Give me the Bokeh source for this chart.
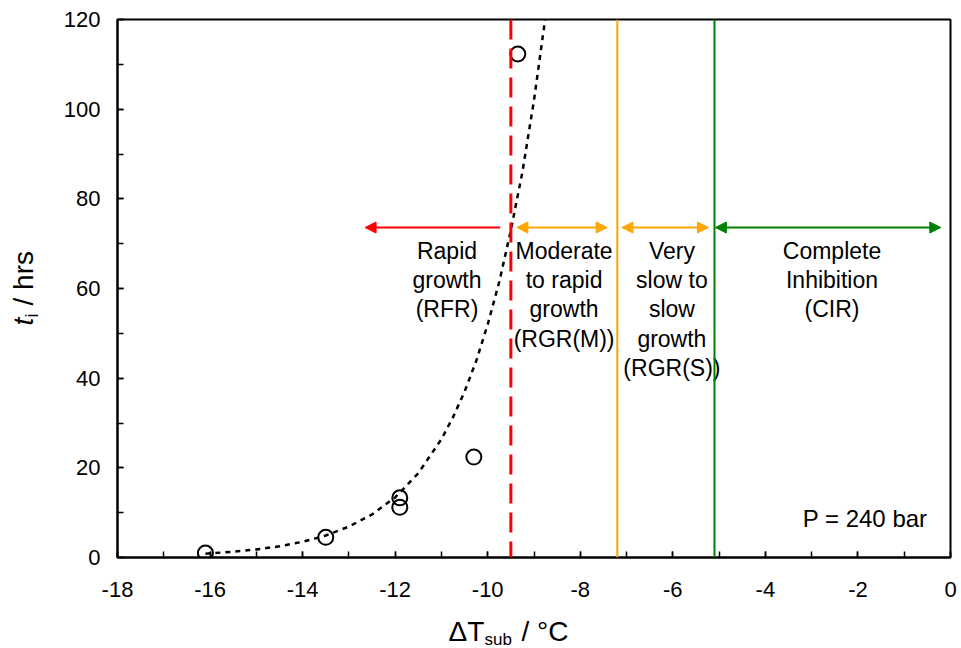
from math import pi
from bokeh.plotting import figure
from bokeh.layouts import row, column
from bokeh.models import (Range1d, FixedTicker, Span, Arrow, NormalHead,
                          ColumnDataSource)
from bokeh.core.properties import value
from bokeh.embed import file_html
from bokeh.resources import INLINE

# ---------------- data ----------------
dT_obs = [-16.1, -13.5, -11.9, -11.9, -10.3, -9.35]
ti_obs = [1.0, 4.5, 13.3, 11.2, 22.4, 112.3]

trend_dT = [-16.1, -15.5, -15.0, -14.5, -14.0, -13.5, -13.0, -12.5, -12.0, -11.5,
            -11.0, -10.75, -10.5, -10.25, -10.0, -9.75, -9.5, -9.25, -9.0, -8.74]
trend_ti = [0.84, 1.3, 1.8, 2.5, 3.5, 4.9, 6.9, 9.6, 13.4, 18.8,
            26.4, 31.3, 37.0, 43.8, 52.0, 61.5, 73.0, 86.0, 102.0, 121.5]

boundary_dT = [-9.5, -7.2, -5.1]
boundary_colors = ["#FF0000", "#FFA500", "#008000"]
boundary_dash = ["20 9", "solid", "solid"]
boundary_width = [3, 2, 2]

arrow_start = [-9.73, -9.37, -7.10, -5.08]
arrow_end = [-12.65, -7.42, -5.23, -0.21]
arrow_level = 73.6
arrow_colors = ["#FF0000", "#FFA500", "#FFA500", "#008000"]
arrow_both = [False, True, True, True]

region_dT = [-10.88, -8.35, -6.02, -2.56]
region_labels = ["Rapid\ngrowth\n(RFR)",
                 "Moderate\nto rapid\ngrowth\n(RGR(M))",
                 "Very\nslow to\nslow\ngrowth\n(RGR(S))",
                 "Complete\nInhibition\n(CIR)"]

pressure_label = "P = 240 bar"

x_title_parts = ["\u0394T", "sub", "/ \u00b0C"]
y_title_parts = ["t", "i", "/ hrs"]

x_ticks = list(range(-18, 1, 2))
x_tick_labels = [str(t) for t in x_ticks]
x_minor = list(range(-18, 1, 1))
y_ticks = list(range(0, 121, 20))
y_tick_labels = [str(t) for t in y_ticks]
y_minor = list(range(0, 121, 10))

# ---------------- layout ----------------
FONT = "Liberation Sans"
W, H = 961, 648
FW, FH = 833, 538
LEFT, RIGHT, TOP = 117, 11, 19
YT_W = 55                      # width of the strip holding the y title
MAIN_BOTTOM = 56               # space under the frame for tick labels
MAIN_H = TOP + FH + MAIN_BOTTOM
XT_H = H - MAIN_H              # strip holding the x title
X0, X1, Y0, Y1 = -18.0, 0.0, 0.0, 120.0
TOP_OFF = 0.926                # baseline offset (in em) below a "top" anchor


def px2x(px):
    return X0 + (px - LEFT) * (X1 - X0) / FW


def py2y(py):
    return Y0 + (TOP + FH - py) * (Y1 - Y0) / FH


p = figure(frame_width=FW, frame_height=FH, output_backend="svg",
           toolbar_location=None, title_location=None,
           x_range=Range1d(X0, X1), y_range=Range1d(Y0, Y1),
           min_border_left=LEFT - YT_W, min_border_right=RIGHT,
           min_border_top=TOP, min_border_bottom=MAIN_BOTTOM,
           background_fill_color="white", border_fill_color="white")
p.grid.visible = False
p.outline_line_color = "black"
p.outline_line_width = 2

for ax, ticks, labels, minor in ((p.xaxis, x_ticks, x_tick_labels, x_minor),
                                 (p.yaxis, y_ticks, y_tick_labels, y_minor)):
    ax.ticker = FixedTicker(ticks=ticks, minor_ticks=minor)
    ax.major_label_overrides = {t: l for t, l in zip(ticks, labels)}
    ax.axis_line_width = 2
    ax.axis_line_color = "black"
    ax.major_tick_in = 6
    ax.major_tick_out = 0
    ax.minor_tick_in = 6
    ax.minor_tick_out = 0
    ax.major_tick_line_width = 1.5
    ax.minor_tick_line_width = 1.5
    ax.major_tick_line_color = "black"
    ax.minor_tick_line_color = "black"
    ax.major_label_text_font = FONT
    ax.major_label_text_font_size = "22px"
    ax.major_label_text_color = "black"
    ax.axis_label = None
p.xaxis.major_label_standoff = 24
p.yaxis.major_label_standoff = 17

# boundaries
for xb, c, d, w in zip(boundary_dT, boundary_colors, boundary_dash, boundary_width):
    p.add_layout(Span(location=xb, dimension="height", line_color=c,
                      line_dash=d, line_width=w))

# trend line
p.line(trend_dT, trend_ti, line_color="black", line_width=2.5, line_dash="5 5")

# observations
p.scatter(dT_obs, ti_obs, marker="circle", size=15, fill_color=None,
          line_color="black", line_width=2)

# arrows
for xs, xe, c, both in zip(arrow_start, arrow_end, arrow_colors, arrow_both):
    head = NormalHead(size=11, fill_color=c, line_color=c, line_width=1)
    start = NormalHead(size=11, fill_color=c, line_color=c, line_width=1) if both else None
    p.add_layout(Arrow(x_start=xs, y_start=arrow_level, x_end=xe, y_end=arrow_level,
                       line_color=c, line_width=2, end=head, start=start))

# region texts
src = ColumnDataSource(dict(x=region_dT, y=[py2y(237)] * len(region_dT),
                            text=region_labels))
p.text(x="x", y="y", text="text", source=src, text_font=value(FONT),
       text_font_size="23px", text_align="center", text_baseline="top",
       text_color="black", text_line_height=1.13)

p.text(x=[px2x(927)], y=[py2y(527 - TOP_OFF * 24)], text=[pressure_label],
       text_font=value(FONT), text_font_size="24px", text_align="right",
       text_baseline="top", text_color="black")


def strip(w, h, border_top, border_bottom, y_top, y_bottom):
    f = figure(width=w, height=h, output_backend="svg", toolbar_location=None,
               title_location=None,
               x_range=Range1d(0, w), y_range=Range1d(y_bottom, y_top),
               x_axis_location=None, y_axis_location=None,
               min_border=0, min_border_left=0, min_border_right=0,
               min_border_top=border_top, min_border_bottom=border_bottom,
               background_fill_color="white", border_fill_color="white")
    f.grid.visible = False
    f.outline_line_color = None
    return f


def piece(f, txt, x, y, size, angle=0.0, style="normal"):
    f.text(x=[x], y=[y], text=[txt], text_font=value(FONT),
           text_font_size=f"{size}px", text_font_style=style,
           text_align="left", text_baseline="top",
           angle=angle, text_color="black")


# y title strip: its frame lines up with the main frame (page y 19..557)
yt = strip(YT_W, MAIN_H, TOP, MAIN_BOTTOM, TOP, TOP + FH)
piece(yt, y_title_parts[0], 33 - TOP_OFF * 28, 325, 28, angle=pi / 2, style="italic")
piece(yt, y_title_parts[1], 38 - TOP_OFF * 18, 317, 18, angle=pi / 2)
piece(yt, y_title_parts[2], 33 - TOP_OFF * 28, 305, 28, angle=pi / 2)

# x title strip (page y MAIN_H..648)
xt = strip(W, XT_H, 0, 0, MAIN_H, H)
piece(xt, x_title_parts[0], 448, 641 - TOP_OFF * 28, 28)
piece(xt, x_title_parts[1], 484, 645 - TOP_OFF * 17, 17)
piece(xt, x_title_parts[2], 521, 641 - TOP_OFF * 28, 28)

layout = column(row(yt, p, spacing=0), xt, spacing=0)
open("out.html", "w").write(file_html(layout, INLINE))
